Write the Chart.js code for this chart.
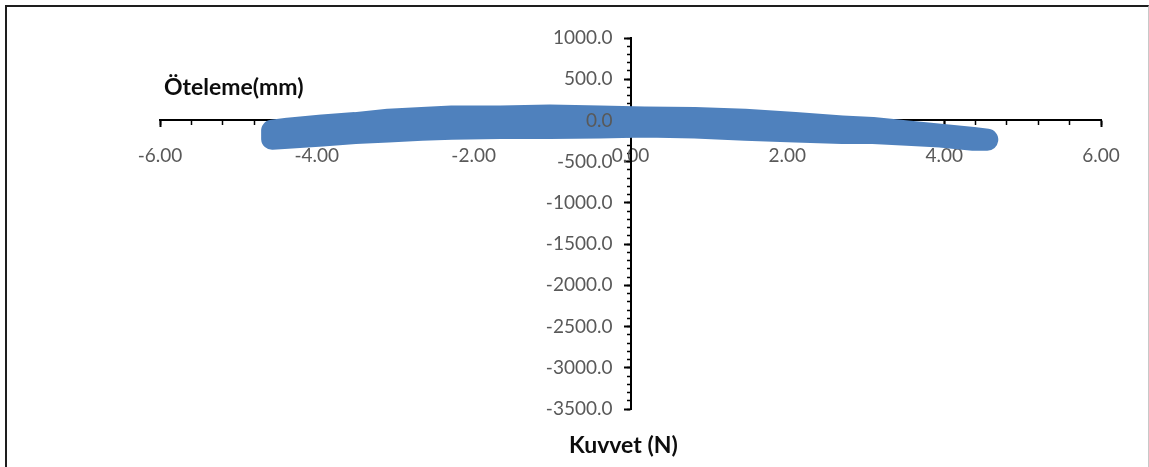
<!DOCTYPE html>
<html>
<head>
<meta charset="utf-8">
<script src="https://cdn.jsdelivr.net/npm/chart.js"></script>
<style>
  html, body { margin: 0; padding: 0; background: #fff; }
  #kutu { position: relative; width: 1149px; height: 467px; overflow: hidden; }
  #cerceve {
    position: absolute; left: 5px; top: 5px; width: 1141px; height: 480px;
    border-top: 2px solid #1e1e1e; border-left: 2px solid #1e1e1e; border-right: 1px solid #c8c8c8;
  }
  canvas { position: absolute; left: 0; top: 0; }
  .baslik { position: absolute; font-family: Lato, sans-serif; font-weight: bold; font-size: 23px; color: #0d0d0d; white-space: nowrap; }
</style>
</head>
<body>
<div id="kutu">
  <div id="cerceve"></div>
  <canvas id="grafik" width="1149" height="467"></canvas>
  <div class="baslik" style="left:164px; top:72px;">Öteleme(mm)</div>
  <div class="baslik" style="left:569px; top:430px;">Kuvvet (N)</div>
</div>
<script>
// kuvvet (x) ve öteleme (y) okumalari
const kuvvet = [-4.57, -4.37, -3.93, -3.51, -3.09, -2.66, -2.28, -1.66, -1.03, -0.39, 0.18, 0.82, 1.46, 2.10, 2.70, 3.09, 3.53, 3.95, 4.37, 4.55]
const otelemeUst = [-125, -101, -61, -32, 8, 29, 49, 49, 61, 49, 36, 29, 8, -32, -73, -92, -133, -173, -213, -234]
const otelemeAlt = [-222, -210, -182, -153, -133, -113, -101, -92, -92, -85, -73, -85, -113, -133, -153, -153, -173, -194, -234, -234]

const xMin = -6, xMax = 6
const yMin = -3500, yMax = 1000

// cevrim: ust kol soldan saga, alt kol sagdan sola
const noktalar = []
for (var i = 0; i < kuvvet.length; i++) {
    noktalar.push({x: kuvvet[i], y: otelemeUst[i]})
}
for (var j = kuvvet.length - 1; j >= 0; j--) {
    noktalar.push({x: kuvvet[j], y: otelemeAlt[j]})
}
noktalar.push({x: kuvvet[0], y: otelemeUst[0]})

const sifirla = function(s) {
    s.width = s.isHorizontal() ? s.width : 0
    s.height = s.isHorizontal() ? 0 : s.height
    s.paddingLeft = 0; s.paddingRight = 0; s.paddingTop = 0; s.paddingBottom = 0
}

const etiketFont = {family: 'Lato', size: 19}

const grafik = new Chart(document.getElementById('grafik'), {
    type: 'scatter',
    data: {
        datasets: [{
            data: noktalar,
            showLine: true,
            borderColor: '#4F81BD',
            backgroundColor: '#4F81BD',
            borderWidth: 22,
            borderJoinStyle: 'round',
            borderCapStyle: 'round',
            pointRadius: 0,
            tension: 0
        }]
    },
    options: {
        responsive: false,
        animation: false,
        devicePixelRatio: 1,
        layout: {padding: {left: 160, right: 48, top: 38, bottom: 58}},
        plugins: {legend: {display: false}, tooltip: {enabled: false}},
        scales: {
            x: {
                type: 'linear', axis: 'x', min: xMin, max: xMax,
                position: {y: 0},
                afterFit: sifirla,
                border: {display: true, color: '#000', width: 2},
                grid: {drawOnChartArea: false, drawTicks: true, tickLength: 6, tickWidth: 2, color: '#000'},
                ticks: {stepSize: 2, autoSkip: false, maxRotation: 0, padding: 18, color: '#595959', font: etiketFont,
                    callback: v => Number(v).toFixed(2)}
            },
            xMinor: {
                type: 'linear', axis: 'x', min: xMin, max: xMax,
                position: {y: 0},
                afterFit: sifirla,
                border: {display: false},
                grid: {drawOnChartArea: false, drawTicks: true, tickLength: 5, tickWidth: 1.5, color: '#000'},
                ticks: {display: false, stepSize: 0.4, autoSkip: false, maxTicksLimit: 100}
            },
            y: {
                type: 'linear', axis: 'y', min: yMin, max: yMax,
                position: 'center',
                afterFit: sifirla,
                border: {display: true, color: '#000', width: 2},
                grid: {drawOnChartArea: false, drawTicks: true, tickLength: 6, tickWidth: 2, color: '#000'},
                ticks: {stepSize: 500, autoSkip: false, padding: 12, color: '#595959', font: etiketFont, z: 1,
                    callback: v => Number(v).toFixed(1)}
            },
            yMinor: {
                type: 'linear', axis: 'y', min: yMin, max: yMax,
                position: 'center',
                afterFit: sifirla,
                border: {display: false},
                grid: {drawOnChartArea: false, drawTicks: true, tickLength: 4, tickWidth: 1.5, color: '#000'},
                ticks: {display: false, stepSize: 100, autoSkip: false, maxTicksLimit: 100}
            }
        }
    }
})
</script>
</body>
</html>
